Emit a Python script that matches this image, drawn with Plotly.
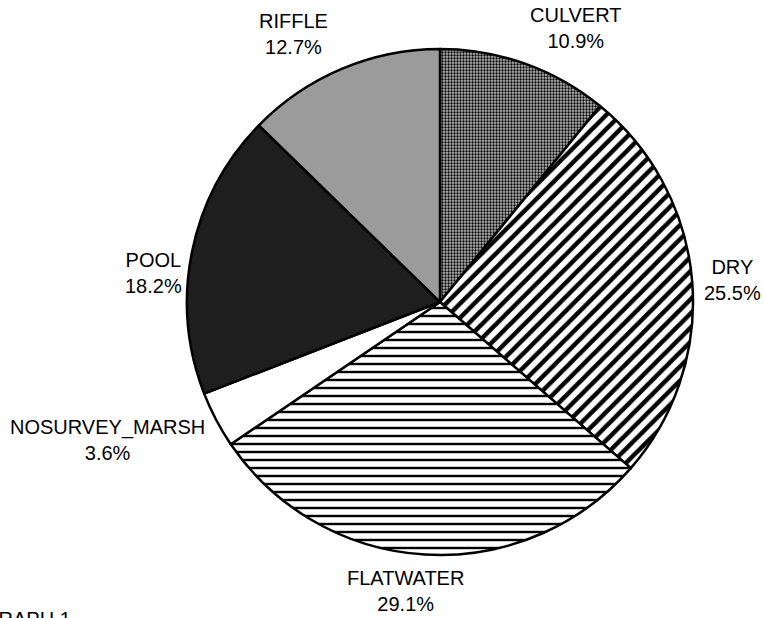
import numpy as np
import plotly.graph_objects as go

labels = ['CULVERT', 'DRY', 'FLATWATER', 'NOSURVEY_MARSH', 'POOL', 'RIFFLE']
values = [10.9, 25.5, 29.1, 3.6, 18.2, 12.7]

W, H = 764, 618
dom_x = [187 / W, 693 / W]
dom_y = [(H - 555) / H, (H - 49) / H]

fig = go.Figure(go.Pie(
    labels=labels, values=values, sort=False, direction='clockwise', rotation=0,
    domain=dict(x=dom_x, y=dom_y),
    textinfo='none', hoverinfo='label+percent', showlegend=False,
    marker=dict(
        colors=['#b4b4b4', '#ffffff', '#ffffff', '#ffffff', '#1e1e1e', '#9b9b9b'],
        line=dict(color='black', width=2.5),
        pattern=dict(
            shape=['.', '/', '-', '', '', ''],
            size=[3, 10, 8, 8, 8, 8],
            solidity=[0.45, 0.45, 0.3, 0.3, 0.3, 0.3],
            fgcolor='black', fgopacity=1, fillmode='overlay',
        ),
    ),
))

# label positions from the slice mid angles, small pixel nudges to match Excel placement
nudge = {'RIFFLE': (-8, 0), 'FLATWATER': (-19, 0), 'NOSURVEY_MARSH': (0, 10), 'POOL': (2, -24)}
cx = (dom_x[0] + dom_x[1]) / 2 * W
cy = (1 - (dom_y[0] + dom_y[1]) / 2) * H
R = (dom_x[1] - dom_x[0]) * W / 2
gap = 10
total = sum(values)
start = 0
annotations = []
for lab, v in zip(labels, values):
    mid = (start + v / 2) / total * 2 * np.pi
    start += v
    ux, uy = np.sin(mid), np.cos(mid)
    px = cx + (R + gap) * ux
    py = cy - (R + gap) * uy
    xa = 'left' if ux > 0.25 else ('right' if ux < -0.25 else 'center')
    ya = 'bottom' if uy > 0.25 else ('top' if uy < -0.25 else 'middle')
    dx, dy = nudge.get(lab, (0, 0))
    annotations.append(dict(
        x=px / W, y=1 - py / H, xref='paper', yref='paper',
        text=f'{lab}<br>{v / total * 100:.1f}%', showarrow=False,
        xanchor=xa, yanchor=ya, align='center', xshift=dx, yshift=dy,
    ))

annotations.append(dict(
    x=-19 / W, y=12 / H, xref='paper', yref='paper', text='GRAPH 1',
    showarrow=False, xanchor='left', yanchor='top',
))

fig.update_layout(
    width=W, height=H,
    margin=dict(l=0, r=0, t=0, b=0),
    paper_bgcolor='white', plot_bgcolor='white',
    font=dict(family='Arial, Liberation Sans, sans-serif', size=20, color='black'),
    annotations=annotations,
)

fig.write_html("out.html", config={'displayModeBar': False},
               post_script="document.body.style.margin='0';"
               "document.documentElement.style.overflow='hidden';"
               "document.querySelectorAll('svg.main-svg').forEach(s => s.style.overflow='visible');")
